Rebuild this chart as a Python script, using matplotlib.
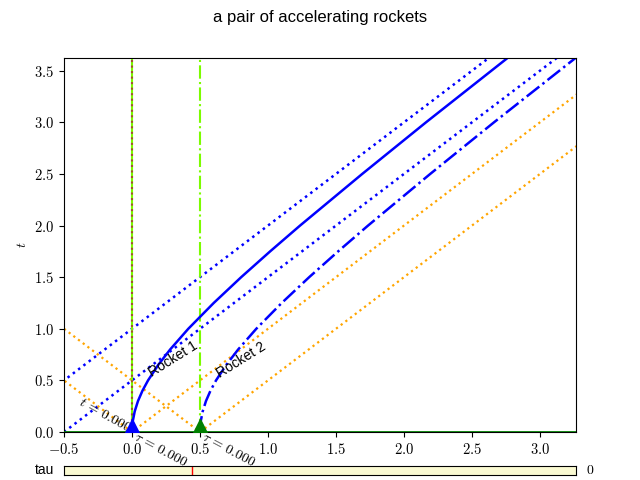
import matplotlib
matplotlib.use("Agg")
import matplotlib.pyplot as plt
from matplotlib.ticker import FuncFormatter, MultipleLocator

plt.rcParams["font.family"] = ["Liberation Sans", "DejaVu Sans"]
plt.rcParams["mathtext.fontset"] = "cm"

# worldlines (coordinate time t vs position x)
rocket_t = [0.0, 0.1, 0.2, 0.3, 0.4, 0.5, 0.65, 0.8, 1.0, 1.25, 1.5, 1.75, 2.0, 2.5, 3.0, 3.627]
rocket1_x = [0.0, 0.005, 0.020, 0.044, 0.077, 0.118, 0.193, 0.281, 0.414, 0.601, 0.803, 1.016, 1.236, 1.693, 2.162, 2.765]
rocket2_x = [0.5, 0.505, 0.520, 0.544, 0.577, 0.618, 0.693, 0.781, 0.914, 1.101, 1.303, 1.516, 1.736, 2.193, 2.662, 3.265]

# asymptotes (blue dotted)
asym1_x = [-1.0, 4.0]
asym1_t = [0.0, 5.0]
asym2_x = [-0.5, 4.0]
asym2_t = [0.0, 4.5]

# light cones from the two start events (orange dotted)
cone1_x = [-1.0, 0.0, 4.0]
cone1_t = [1.0, 0.0, 4.0]
cone2_x = [-0.5, 0.5, 4.5]
cone2_t = [1.0, 0.0, 4.0]

start_x = [0.0, 0.5]
start_t = [0.0, 0.0]
x_range = [-0.5, 3.265]
t_range = [0.0, 3.627]

tau_range = [0.0, 2.0]
tau_mark = 0.5
tau_text = "0"

fig = plt.figure(figsize=(6.4, 4.8), dpi=100)
ax = fig.add_axes([0.1, 0.1, 0.8, 0.78])

ax.plot(asym1_x, asym1_t, ":", color="blue", lw=1.8)
ax.plot(asym2_x, asym2_t, ":", color="blue", lw=1.8)
ax.plot(cone1_x, cone1_t, ":", color="orange", lw=1.6)
ax.plot(cone2_x, cone2_t, ":", color="orange", lw=1.6)

ax.axvline(start_x[0], color="lawngreen", lw=1.5)
ax.axvline(start_x[0], color="sienna", lw=1.5, ls=":")
ax.axvline(start_x[1], color="lawngreen", lw=1.5, ls="-.")
ax.axhline(start_t[0], color="green", lw=2, zorder=3)

ax.plot(rocket1_x, rocket_t, "-", color="blue", lw=1.8)
ax.plot(rocket2_x, rocket_t, "-.", color="blue", lw=1.8)

ax.plot(start_x[0], start_t[0], "^", color="blue", ms=19, zorder=4)
ax.plot(start_x[1], start_t[1], "^", color="green", ms=19, zorder=4)

ax.text(0.15, 0.53, "Rocket 1", rotation=32, rotation_mode="anchor",
        ha="left", va="baseline", fontsize=10)
ax.text(0.65, 0.52, "Rocket 2", rotation=32, rotation_mode="anchor",
        ha="left", va="baseline", fontsize=10)
ax.text(-0.2, 0.165, r"$t\,=\,0.000$", rotation=-29, ha="center", va="center", fontsize=10)
ax.text(0.215, -0.17, r"$\tau\,=\,0.000$", rotation=-28, ha="center", va="center", fontsize=10)
ax.text(0.715, -0.17, r"$\tau\,=\,0.000$", rotation=-28, ha="center", va="center", fontsize=10)

ax.set_xlim(x_range)
ax.set_ylim(t_range)
ax.xaxis.set_major_locator(MultipleLocator(0.5))
ax.yaxis.set_major_locator(MultipleLocator(0.5))
fmt = FuncFormatter(lambda v, p: f"${v:.1f}$")
ax.xaxis.set_major_formatter(fmt)
ax.yaxis.set_major_formatter(fmt)
ax.tick_params(labelsize=10.5)
ax.set_xlabel("$x$")
ax.set_ylabel("$t$")

fig.suptitle("a pair of accelerating rockets", fontsize=12)

# slider bar
sax = fig.add_axes([0.1, 0.01, 0.8, 0.02], facecolor="lightgoldenrodyellow")
sax.set_xlim(tau_range)
sax.set_ylim(0, 1)
sax.axvline(tau_mark, color="red", lw=1)
sax.set_xticks([])
sax.set_yticks([])
sax.text(-0.02, 0.5, "tau", transform=sax.transAxes, ha="right", va="center", fontsize=10)
sax.text(1.02, 0.5, f"${tau_text}$", transform=sax.transAxes, ha="left", va="center", fontsize=10)

fig.savefig("out.png", dpi=100)
